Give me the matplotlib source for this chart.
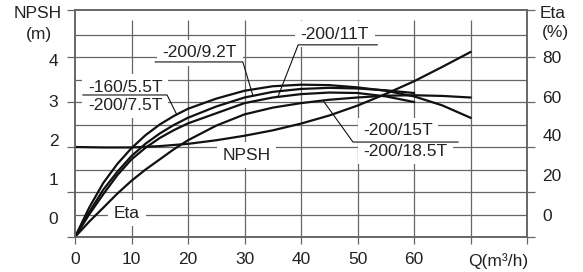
import numpy as np
import matplotlib
matplotlib.use('Agg')
from matplotlib import pyplot as plt
from matplotlib.ticker import FixedLocator

plt.rcParams['font.family'] = ['Liberation Sans', 'DejaVu Sans']

# flow Q (m3/h)
q_npsh = [0, 5, 10, 15, 20, 25, 30, 35, 40, 45, 50, 55, 60, 65, 70]
npsh = [2.0, 1.99, 1.99, 2.02, 2.07, 2.15, 2.25, 2.37, 2.52, 2.7, 2.92, 3.18, 3.46, 3.78, 4.11]

q_eta = [0, 2.5, 5, 7.5, 10, 12.5, 15, 17.5, 20, 25, 30, 35, 40, 45, 50, 55, 60, 65, 70]
eta_160_55 = [0, 13, 24, 32.5, 39.5, 45.3, 50, 53.8, 57, 61.5, 65, 67, 67.7, 67.5, 66.5, 65, 62.5, 58.5, 53]
eta_200_92 = [0, 11, 21, 29, 36, 41.5, 46, 49.8, 53, 58, 62, 64.5, 65.8, 66.3, 66, 65.2, 64]
eta_200_11 = [0, 10, 19, 27.5, 34.5, 39.7, 44, 47.5, 50.5, 55, 59.5, 62, 63.5, 64.2, 64, 62.5, 60]
eta_200_15 = [0, 6.8, 13, 19.3, 25, 30, 34.5, 39, 43, 49.5, 54.5, 57.5, 59.5, 61, 62, 62.8, 63, 62.7, 62]

x_ticks = [0, 10, 20, 30, 40, 50, 60, 70, 80]
x_labels = ['0', '10', '20', '30', '40', '50', '60', '', '']
npsh_ticks = [0, 1, 2, 3, 4]
npsh_labels = ['0', '1', '2', '3', '4']
eta_ticks = [0, 20, 40, 60, 80]
eta_labels = ['0', '20', '40', '60', '80']

# the printed labels sit a little off their tick marks in the original
npsh_label_pos = [0.42, 1.29, 2.16, 3.02, 3.93]
eta_label_pos = [9.8, 27.6, 45.3, 62.2, 80.0]

gc = '#666666'
tc = '#222222'
fs = 12.5
ytop = 227 / 45

fig = plt.figure(figsize=(5.83, 2.72), dpi=100)
ax = fig.add_axes([75 / 583, 35 / 272, 452 / 583, 227 / 272])
ax.set_xlim(0, 80)
ax.set_ylim(0, ytop)
ax2 = ax.twinx()
ax2.set_ylim(0, ytop * 20)

# grid
ax.hlines(np.arange(0.5, 4.6, 0.5), 0, 80, color=gc, lw=0.9, zorder=1)
ax.vlines(x_ticks[1:-1], 0, 4.82, color=gc, lw=0.9, zorder=1)

for a in (ax, ax2):
    for s in a.spines.values():
        s.set_color(gc)
        s.set_linewidth(1.2)

ax.set_xticks(x_ticks, x_labels)
ax.tick_params(axis='x', direction='out', length=5, width=0.9, color=gc,
               pad=6, labelsize=fs, labelcolor=tc)

ax.set_yticks(npsh_label_pos, npsh_labels)
ax.yaxis.set_minor_locator(FixedLocator(npsh_ticks + [ytop]))
ax.yaxis.remove_overlapping_locs = False
ax.tick_params(axis='y', which='major', length=0, pad=12, labelsize=fs, labelcolor=tc)
ax.tick_params(axis='y', which='minor', direction='out', length=6, width=0.9, color=gc)

ax2.set_yticks(eta_label_pos, eta_labels)
ax2.yaxis.set_minor_locator(FixedLocator(eta_ticks + [ytop * 20]))
ax2.yaxis.remove_overlapping_locs = False
ax2.tick_params(axis='y', which='major', length=0, pad=11, labelsize=fs, labelcolor=tc)
ax2.tick_params(axis='y', which='minor', direction='out', length=6, width=0.9, color=gc)

# curves
ax.plot(q_npsh, npsh, color='#111111', lw=1.6, zorder=5)
ax2.plot(q_eta, eta_160_55, color='#111111', lw=1.6)
ax2.plot(q_eta[:len(eta_200_92)], eta_200_92, color='#111111', lw=1.6)
ax2.plot(q_eta[:len(eta_200_11)], eta_200_11, color='#111111', lw=1.6)
ax2.plot(q_eta, eta_200_15, color='#111111', lw=1.6)

box = dict(facecolor='white', edgecolor='none', pad=4)


def eta_at(qq, qs, es):
    return np.interp(qq, qs[:len(es)], es) / 20


# curve labels with leader lines
ax.text(2.3, 3.33, '-160/5.5T', fontsize=fs, color=tc, ha='left', va='center', bbox=box)
ax.text(2.3, 2.93, '-200/7.5T', fontsize=fs, color=tc, ha='left', va='center', bbox=box)
ax.plot([1.4, 16.3, 18.0], [3.156, 3.156, eta_at(18.0, q_eta, eta_160_55)],
        color='#111111', lw=0.8, zorder=4)

ax.text(22.1, 4.09, '-200/9.2T', fontsize=fs, color=tc, ha='center', va='center', bbox=box)
ax.plot([14.2, 29.7, 31.5], [3.89, 3.89, eta_at(31.5, q_eta, eta_200_92)],
        color='#111111', lw=0.8, zorder=4)

ax.text(46.0, 4.51, '-200/11T', fontsize=fs, color=tc, ha='center', va='center', bbox=box)
ax.plot([53.5, 39.5, 35.9], [4.27, 4.27, eta_at(35.9, q_eta, eta_200_11)],
        color='#111111', lw=0.8, zorder=4)

ax.text(51.0, 2.36, '-200/15T', fontsize=fs, color=tc, ha='left', va='center', bbox=box)
ax.text(51.0, 1.91, '-200/18.5T', fontsize=fs, color=tc, ha='left', va='center', bbox=box)
ax.plot([67.8, 49.2, 43.9], [2.11, 2.11, eta_at(43.9, q_eta, eta_200_15)],
        color='#111111', lw=0.8, zorder=4)

ax.text(30.3, 1.82, 'NPSH', fontsize=fs, color=tc, ha='center', va='center', bbox=box)
ax.text(9.2, 0.53, 'Eta', fontsize=fs, color=tc, ha='center', va='center', bbox=box)

# axis titles
fig.text(38 / 583, 1 - 13 / 272, 'NPSH', fontsize=fs, color=tc, ha='center', va='center')
fig.text(39 / 583, 1 - 35 / 272, '(m)', fontsize=fs, color=tc, ha='center', va='center')
fig.text(553 / 583, 1 - 13 / 272, 'Eta', fontsize=fs, color=tc, ha='center', va='center')
fig.text(555 / 583, 1 - 33 / 272, '(%)', fontsize=fs, color=tc, ha='center', va='center')
ax.text(80.2, -0.106, 'Q(m³/h)', fontsize=fs, color=tc, ha='right', va='center',
        transform=ax.get_xaxis_transform())

fig.savefig('out.png', dpi=100)
